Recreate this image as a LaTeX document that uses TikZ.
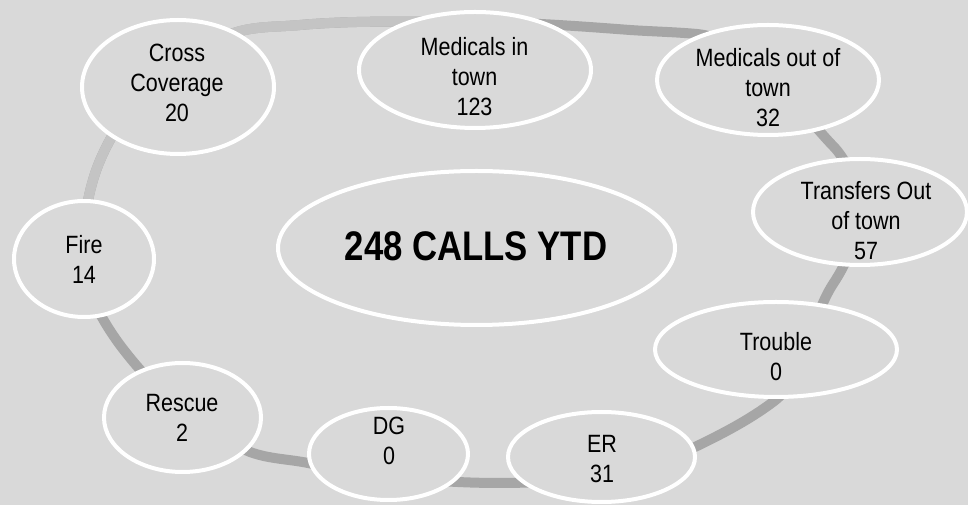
\documentclass[tikz,border=0pt]{standalone}
\usepackage{fontspec}
\setmainfont{Liberation Sans}[FakeStretch=0.86]
\newfontfamily\titlefont{Liberation Sans}[FakeStretch=0.84]
\usetikzlibrary{shapes.geometric}
\definecolor{bg}{HTML}{D9D9D9}
\definecolor{ringdark}{HTML}{A6A6A6}
\definecolor{ringlight}{HTML}{C4C4C4}
\begin{document}
\begin{tikzpicture}[x=0.75pt,y=-0.75pt,
  bubble/.style 2 args={ellipse, draw=white, line width=3pt, fill=bg, inner sep=0pt,
    minimum width={#1*1.5pt}, minimum height={#2*1.5pt}},
  lbl/.style={align=center, inner sep=0pt, font=\fontsize{18.75}{22.5}\selectfont, text=black},
  title/.style={inner sep=0pt, font=\titlefont\bfseries\fontsize{31}{36}\selectfont, text=black},
  ringline/.style={line width=7.5pt, line join=round}
]
\fill[bg] (0,0) rectangle (968,505);
\useasboundingbox (0,0) rectangle (968,505);

% ring
\def\ringpath{}
\draw[ringline, ringdark] (237,32) .. controls (257,26) and (279,27) .. (300,25)
 .. controls (357,20) and (413,22) .. (470,22)
 .. controls (523,22) and (577,26) .. (630,30)
 .. controls (652,31.5) and (675,32) .. (697,34)
 .. controls (756,40) and (793,105) .. (835,148)
 .. controls (850,165) and (858,189) .. (858,212)
 .. controls (858,237) and (847,263) .. (833,284)
 .. controls (809,321) and (808,376) .. (773,402)
 .. controls (749,420) and (722,434) .. (695,447)
 .. controls (636,475) and (566,483) .. (500,483)
 .. controls (436,483) and (371,476) .. (308,463)
 .. controls (288,459) and (269,459) .. (250,452)
 .. controls (198,431) and (154,390) .. (120,345)
 .. controls (101,319) and (83,287) .. (83,255)
 .. controls (83,226) and (87,195) .. (97,168)
 .. controls (120,107) and (175,50) .. (237,32) -- cycle;
\begin{scope}
\clip (0,0) rectangle (475,230);
\draw[ringline, ringlight] (237,32) .. controls (257,26) and (279,27) .. (300,25)
 .. controls (357,20) and (413,22) .. (470,22)
 .. controls (523,22) and (577,26) .. (630,30);
\draw[ringline, ringlight] (120,345)
 .. controls (101,319) and (83,287) .. (83,255)
 .. controls (83,226) and (87,195) .. (97,168)
 .. controls (120,107) and (175,50) .. (237,32) .. controls (257,26) and (279,27) .. (300,25);
\end{scope}

% bubbles
\node[bubble={96}{67}] (cc) at (178,87) {};
\node[bubble={116}{58}] (mi) at (475,70) {};
\node[bubble={111}{55}] (mo) at (768,80) {};
\node[bubble={107}{53}] (tr) at (860,212) {};
\node[bubble={198.5}{77}] (calls) at (476.5,248) {};
\node[bubble={70}{58}] (fi) at (84,259) {};
\node[bubble={78.5}{54.5}] (re) at (182.5,417.5) {};
\node[bubble={79.5}{46}] (dg) at (388.5,454) {};
\node[bubble={93.5}{45}] (er) at (601.5,457) {};
\node[bubble={121}{47.5}] (tb) at (776,349.5) {};

% labels
\node[lbl] (cct) at (177,83.3) {Cross\\Coverage\\20};
\node[lbl] (mit) at (474.5,77) {Medicals in\\town\\123};
\node[lbl] (mot) at (768,87.5) {Medicals out of\\town\\32};
\node[lbl] (trt) at (866,220.3) {Transfers Out\\of town\\57};
\node[title] (callst) at (476,246.7) {248 CALLS YTD};
\node[lbl] (fit) at (84,259.5) {Fire\\14};
\node[lbl] (ret) at (182,418) {Rescue\\2};
\node[lbl] (dgt) at (389,441) {DG\\0};
\node[lbl] (ert) at (602,459.5) {ER\\31};
\node[lbl] (tbt) at (776,356.5) {Trouble\\0};
\end{tikzpicture}
\end{document}
